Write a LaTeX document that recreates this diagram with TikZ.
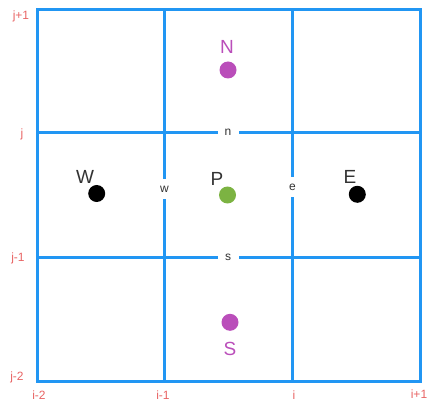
\documentclass[tikz,border=0pt]{standalone}
\usepackage{fontspec}
\setmainfont{Liberation Sans}
\definecolor{gridblue}{RGB}{33,150,243}
\definecolor{idxred}{RGB}{232,100,100}
\definecolor{nbpurple}{RGB}{186,78,186}
\definecolor{pgreen}{RGB}{124,179,66}
\begin{document}
\begin{tikzpicture}[x=1pt,y=-1pt,
  gridline/.style={draw=gridblue,line width=3pt,line cap=rect},
  face/.style={fill=white,inner sep=0pt,minimum width=21pt,minimum height=20pt,font=\fontsize{12}{12}\selectfont,text=black!80},
  dot/.style={circle,minimum size=17pt,inner sep=0pt},
  biglabel/.style={inner sep=0pt,font=\fontsize{19}{19}\selectfont},
  idx/.style={inner sep=0pt,text=idxred,font=\fontsize{12}{12}\selectfont}]
\useasboundingbox (0,0) rectangle (446,403);
% grid
\foreach \x in {37,164.5,292.5,420} \draw[gridline] (\x,10) -- (\x,381);
\foreach \y in {10,133,257,381} \draw[gridline] (37,\y) -- (420,\y);
% face labels
\node[face] (n) at (228,132) {n};
\node[face] (s) at (228,257) {s};
\node[face] (w) at (164.5,189) {w};
\node[face] (e) at (292.5,187) {e};
% nodes
\node[dot,fill=nbpurple] (N) at (228,70) {};
\node[biglabel,text=nbpurple] (Nl) at (227,47) {N};
\node[dot,fill=pgreen] (P) at (227.5,195) {};
\node[biglabel,text=black!80] (Pl) at (217,179) {P};
\node[dot,fill=black] (W) at (96.7,193.5) {};
\node[biglabel,text=black!80] (Wl) at (85,177) {W};
\node[dot,fill=black] (E) at (357.3,194.3) {};
\node[biglabel,text=black!80] (El) at (350,177) {E};
\node[dot,fill=nbpurple] (S) at (230,322.3) {};
\node[biglabel,text=nbpurple] (Sl) at (230,349.3) {S};
% index labels
\node[idx] (jp1) at (21,16) {j+1};
\node[idx] (j0) at (22,134) {j};
\node[idx] (jm1) at (18,258) {j-1};
\node[idx] (jm2) at (17,377) {j-2};
\node[idx] (im2) at (39,395) {i-2};
\node[idx] (im1) at (163,395) {i-1};
\node[idx] (i0) at (294,395) {i};
\node[idx] (ip1) at (419,394) {i+1};
\end{tikzpicture}
\end{document}
